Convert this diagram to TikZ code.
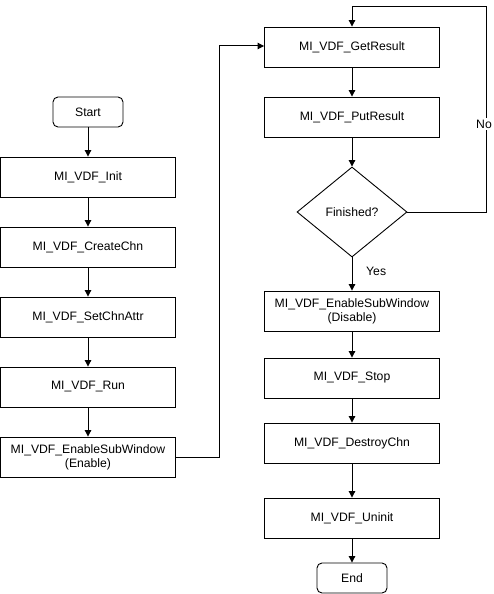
\documentclass[tikz,border=0pt]{standalone}
\usepackage{fontspec}
\setmainfont{Liberation Sans}
\usetikzlibrary{shapes.geometric,arrows.meta}
\begin{document}
\begin{tikzpicture}[x=1pt,y=-1pt,
  font=\fontsize{12.2}{14.2}\selectfont,
  proc/.style={draw, line width=0.9pt, minimum width=175pt, minimum height=40pt, inner sep=0pt, align=center},
  term/.style={draw, line width=0.9pt, rounded corners=5pt, minimum width=70pt, minimum height=30pt, inner sep=0pt},
  dec/.style={draw, line width=0.9pt, diamond, minimum width=110pt, minimum height=90pt, inner sep=0pt, aspect=1.22},
  arr/.style={draw, line width=1pt, -{Triangle[length=6.5pt,width=6.5pt]}},
  lbl/.style={fill=white, inner sep=1.5pt}]
\useasboundingbox (0,0) rectangle (494,594);
\node[term] (start) at (88,112) {Start};
\node[proc] (init) at (88,177) {MI\_VDF\_Init};
\node[proc] (create) at (88,247) {MI\_VDF\_CreateChn};
\node[proc] (attr) at (88,317) {MI\_VDF\_SetChnAttr};
\node[proc] (run) at (88,387) {MI\_VDF\_Run};
\node[proc] (enable) at (88,457) {MI\_VDF\_EnableSubWindow\\(Enable)};
\node[proc] (get) at (352,47) {MI\_VDF\_GetResult};
\node[proc] (put) at (352,117) {MI\_VDF\_PutResult};
\node[dec] (fin) at (352,212) {};
\node at (352,212) {Finished?};
\node[proc] (disable) at (352,311) {MI\_VDF\_EnableSubWindow\\(Disable)};
\node[proc] (stop) at (352,378) {MI\_VDF\_Stop};
\node[proc] (destroy) at (352,443) {MI\_VDF\_DestroyChn};
\node[proc] (uninit) at (352,518) {MI\_VDF\_Uninit};
\node[term] (end) at (352,578) {End};
\coordinate (c1) at (219,457);
\coordinate (c2) at (219,46);
\coordinate (n1) at (486,212);
\coordinate (n2) at (486,7);
\coordinate (n3) at (352,7);
\draw[arr] (start) -- (init);
\draw[arr] (init) -- (create);
\draw[arr] (create) -- (attr);
\draw[arr] (attr) -- (run);
\draw[arr] (run) -- (enable);
\draw[arr] (enable.east) -- (c1) -- (c2) -- (get.west |- c2);
\draw[arr] (get) -- (put);
\draw[arr] (put) -- (fin.north);
\draw[arr] (fin.east) -- (n1) -- (n2) -- (n3) -- (get.north);
\node[lbl] (no) at (484,124) {No};
\draw[arr] (fin.south) -- (disable);
\node[anchor=west, inner sep=0pt] (yes) at (366,271) {Yes};
\draw[arr] (disable) -- (stop);
\draw[arr] (stop) -- (destroy);
\draw[arr] (destroy) -- (uninit);
\draw[arr] (uninit) -- (end);
\end{tikzpicture}
\end{document}
